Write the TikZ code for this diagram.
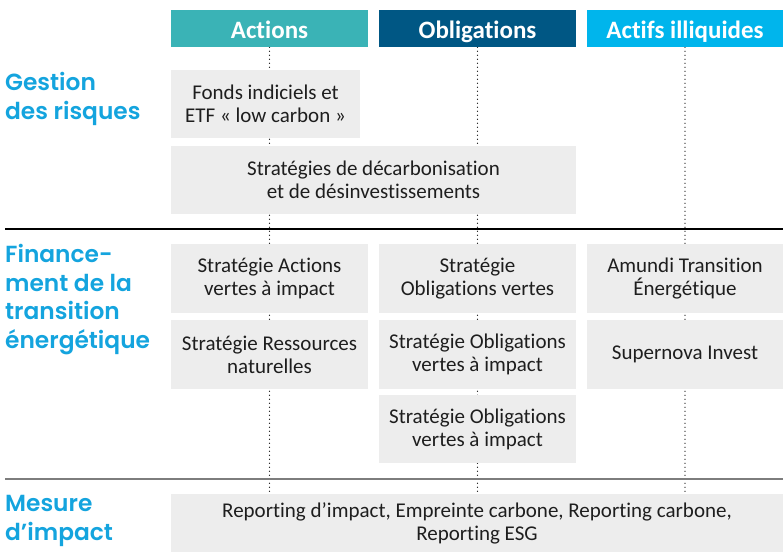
\documentclass[tikz,border=0pt]{standalone}
\usepackage{fontspec}
\setmainfont{Carlito}[Ligatures=NoCommon]
\newfontfamily\lblfont{Poppins}[UprightFont=* SemiBold]
\usetikzlibrary{backgrounds}

\definecolor{actcol}{RGB}{58,179,182}
\definecolor{oblcol}{RGB}{0,87,132}
\definecolor{illcol}{RGB}{0,181,236}
\definecolor{lblcol}{RGB}{20,164,222}
\definecolor{boxcol}{RGB}{237,237,237}
\definecolor{txtcol}{RGB}{30,30,30}
\definecolor{sepcol}{RGB}{125,125,125}

\begin{document}
\begin{tikzpicture}[x=1pt,y=-1pt]

\tikzstyle head=[minimum height=37pt, inner sep=0pt, text height=20pt, text depth=0pt, text=white, font=\bfseries\fontsize{25}{28}\selectfont]
\tikzstyle box=[fill=boxcol, inner sep=0pt, align=center, text=txtcol, font=\fontsize{21}{23}\selectfont]
\tikzstyle theme=[anchor=base west, inner sep=0pt, align=left, text=lblcol, font=\lblfont\fontsize{23.3}{28.5}\selectfont]
\tikzstyle guide=[line width=1.3pt, dash pattern=on 0pt off 4pt, line cap=round]

\useasboundingbox (0,0) rectangle (783,552);

\node (hA) [head, fill=actcol, minimum width=197pt] at (269.5,28.5) {Actions};
\node (hO) [head, fill=oblcol, minimum width=197pt] at (477.5,28.5) {Obligations};
\node (hI) [head, fill=illcol, minimum width=196pt] at (685,28.5) {Actifs illiquides};

\node (risk) [theme] at (5,119) {Gestion\\des risques};
\node (fin) [theme] at (5,348) {Finance-\\ment de la\\transition\\énergétique};
\node (mes) [theme] at (5,540) {Mesure\\d’impact};

\node (fonds) [box, minimum width=189pt, minimum height=68pt] at (265.5,104) {Fonds indiciels et\\ETF «~low carbon~»};
\node (decarb) [box, minimum width=405pt, minimum height=68pt] at (373.5,180) {Stratégies de décarbonisation\\et de désinvestissements};

\node (sav) [box, minimum width=197pt, minimum height=69pt] at (269.5,278.5) {Stratégie Actions\\vertes à impact};
\node (srn) [box, minimum width=197pt, minimum height=69pt] at (269.5,354.5) {Stratégie Ressources\\naturelles};
\node (sov) [box, minimum width=197pt, minimum height=69pt] at (477.5,278.5) {Stratégie\\Obligations vertes};
\node (soi) [box, minimum width=197pt, minimum height=69pt] at (477.5,354.5) {Stratégie Obligations\\vertes à impact};
\node (soi2) [box, minimum width=197pt, minimum height=68pt] at (477.5,429) {Stratégie Obligations\\vertes à impact};
\node (atr) [box, minimum width=196pt, minimum height=69pt] at (685,278.5) {Amundi Transition\\Énergétique};
\node (snv) [box, minimum width=196pt, minimum height=69pt] at (685,354.5) {Supernova Invest};

\node (rep) [box, minimum width=612pt, minimum height=58pt] at (477,523) {Reporting d’impact, Empreinte carbone, Reporting carbone,\\Reporting ESG};

\begin{scope}[on background layer]
\draw [guide] (hA.south) -- (hA.south |- rep.north);
\draw [guide] (hO.south) -- (hO.south |- rep.north);
\draw [guide] (hI.south) -- (hI.south |- rep.north);
\end{scope}

\coordinate (r1) at (5,229);
\coordinate (r2) at (5,479);
\draw [line width=1.3pt] (r1) -- (r1 -| hI.east);
\draw [line width=2pt, sepcol] (r2) -- (r2 -| hI.east);

\end{tikzpicture}
\end{document}
